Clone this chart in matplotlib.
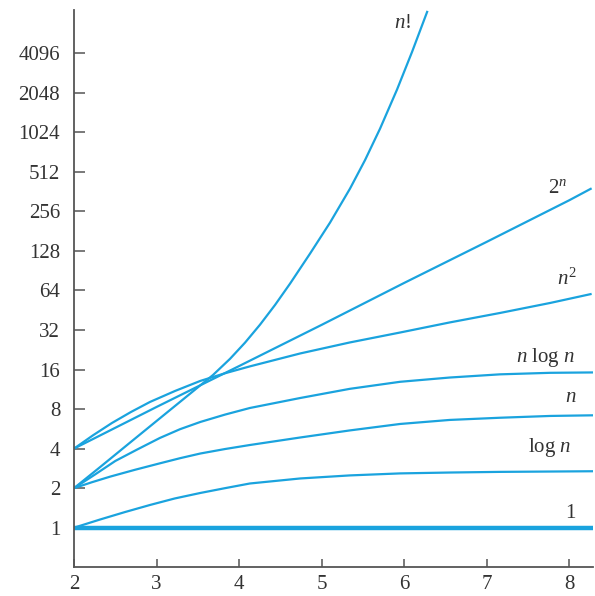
import matplotlib
matplotlib.use("Agg")
import matplotlib.pyplot as plt

# ---------------------------------------------------------------------------
# Data (x = n, y = function value, log2 axis)
# ---------------------------------------------------------------------------

N_ONE = [2.0, 8.29]
V_ONE = [1.0, 1.0]

N_LOG = [2.0, 2.315, 2.62, 2.92, 3.22, 3.53, 3.83, 4.13, 4.74, 5.34, 5.95, 6.55, 7.16, 8.29]
V_LOG = [1.0, 1.154, 1.317, 1.489, 1.669, 1.838, 2.0, 2.17, 2.37, 2.50, 2.59, 2.63, 2.66, 2.69]

N_LIN = [2.0, 2.218, 2.44, 2.739, 3.04, 3.284, 3.53, 3.829, 4.13, 4.74, 5.34, 5.95,
         6.55, 7.16, 7.77, 8.29]
V_LIN = [2.0, 2.22, 2.45, 2.76, 3.09, 3.38, 3.67, 3.97, 4.26, 4.86, 5.50, 6.16,
         6.61, 6.87, 7.09, 7.17]

N_NLOG = [2.0, 2.254, 2.50, 2.763, 3.04, 3.284, 3.53, 3.829, 4.13, 4.74, 5.34, 5.95,
          6.55, 7.16, 7.77, 8.29]
V_NLOG = [2.0, 2.54, 3.22, 3.93, 4.82, 5.62, 6.38, 7.26, 8.15, 9.71, 11.4, 12.9,
          13.9, 14.7, 15.1, 15.2]

N_SQ = [2.0, 2.23, 2.46, 2.69, 2.92, 3.223, 3.53, 3.829, 4.13, 4.74, 5.34, 5.95,
        6.55, 7.16, 7.77, 8.27]
V_SQ = [4.0, 5.05, 6.27, 7.60, 9.06, 10.98, 13.1, 14.98, 16.9, 21.2, 25.7, 30.6,
        36.5, 43.1, 51.4, 60.2]

N_EXP = [2.0, 3.0, 4.0, 5.0, 6.0, 7.0, 8.0, 8.27]
V_EXP = [4.0, 8.3, 17.0, 35.0, 73.0, 150.0, 311.0, 383.0]

N_FACT = [2.0, 2.315, 2.678, 3.042, 3.405, 3.684, 3.890, 4.071, 4.253, 4.435, 4.617,
          4.859, 5.101, 5.343, 5.525, 5.707, 5.913, 6.095, 6.282]
V_FACT = [2.0, 2.89, 4.44, 6.82, 10.46, 14.54, 19.3, 25.6, 35.1, 49.6, 72.1,
          122.0, 210.0, 381.0, 628.0, 1090.0, 2165.0, 4190.0, 8590.0]

Y_TICKS = [1, 2, 4, 8, 16, 32, 64, 128, 256, 512, 1024, 2048, 4096]
X_TICKS = [2, 3, 4, 5, 6, 7, 8]

# curve labels: text, right edge n, baseline value
LABELS = [
    (r"$n!$",        6.09, 6390),
    (r"$2^n$",       7.97, 353),
    (r"$n^2$",       8.09, 70.5),
    (r"$n$ log $n$", 8.07, 18.3),
    (r"$n$",         8.09, 9.06),
    (r"log $n$",     8.03, 3.79),
    ("1",            8.07, 1.185),
]

BLUE = "#1aa3de"
GREY = "#555555"

plt.rcParams["font.family"] = ["Liberation Serif", "DejaVu Serif"]
plt.rcParams["mathtext.fontset"] = "custom"
plt.rcParams["mathtext.rm"] = "Liberation Serif"
plt.rcParams["mathtext.it"] = "Liberation Serif:italic"

fig = plt.figure(figsize=(5.95, 5.96), dpi=100)
ax = fig.add_axes([0.1244, 0.0492, 0.8723, 0.9340])

ax.plot(N_ONE, V_ONE, color=BLUE, lw=3.2, solid_capstyle="butt")
for xs, ys in [(N_LOG, V_LOG), (N_LIN, V_LIN), (N_NLOG, V_NLOG),
               (N_SQ, V_SQ), (N_EXP, V_EXP), (N_FACT, V_FACT)]:
    ax.plot(xs, ys, color=BLUE, lw=1.6, solid_joinstyle="round",
            solid_capstyle="butt")

for txt, x, y in LABELS:
    ax.text(x, y, txt, ha="right", va="baseline", fontsize=15, color="#333333")

ax.set_yscale("log", base=2)
ax.set_xlim(2, 8.287)
ax.set_ylim(0.505, 8720)
ax.set_yticks(Y_TICKS)
ax.set_yticklabels([str(v) for v in Y_TICKS])
ax.yaxis.set_minor_locator(matplotlib.ticker.NullLocator())
ax.set_xticks(X_TICKS)
ax.set_xticklabels([str(v) for v in X_TICKS])

ax.tick_params(axis="y", direction="in", length=8, width=1.1, pad=10,
               labelsize=15, colors=GREY, labelcolor="#333333")
ax.tick_params(axis="x", direction="in", length=6, width=1.1, pad=6,
               labelsize=15, colors=GREY, labelcolor="#333333")

for side in ["top", "right"]:
    ax.spines[side].set_visible(False)
for side in ["left", "bottom"]:
    ax.spines[side].set_color(GREY)
    ax.spines[side].set_linewidth(1.3)

fig.savefig("out.png", dpi=100)
